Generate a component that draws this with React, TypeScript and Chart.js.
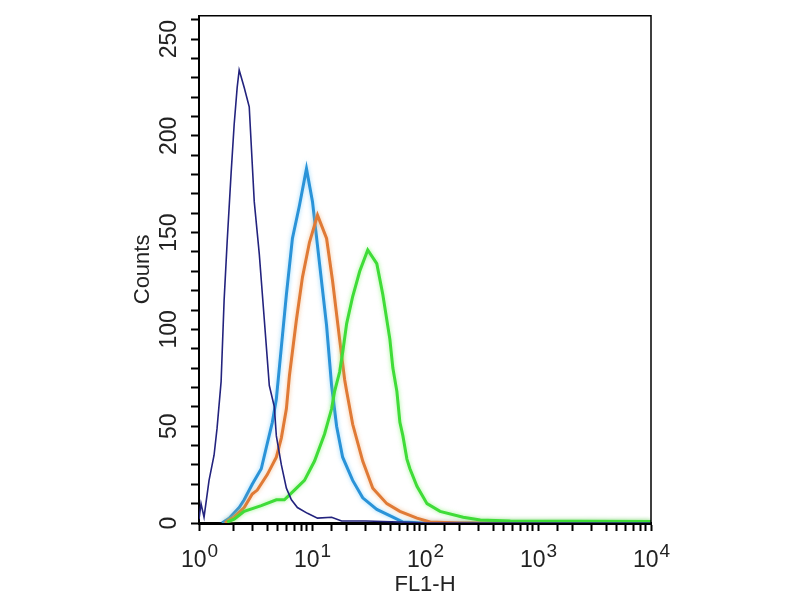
import React, { useEffect, useRef } from 'react';
import Chart from 'chart.js/auto';

// FL1-H intensity (x) and event counts (y)
const isotypeFl = [1.0, 1.042, 1.108, 1.227, 1.359, 1.445, 1.569, 1.668, 1.774, 1.925, 2.048, 2.177, 2.268, 2.512, 2.783, 3.083, 3.415, 3.784, 4.19, 4.642, 4.835, 5.357, 5.934, 6.574, 7.43, 9.12, 11.19, 14.91, 18.29, 30, 60, 100, 10000];
const isotypeCounts = [2, 10, 3, 22, 35, 49, 73, 115, 145, 181, 206, 225, 234, 225, 215, 166, 139, 105, 71, 60, 45, 30, 18, 12, 8, 5, 2.5, 3, 1, 1, 0.5, 0, 0];

const blueFl = [1.6, 1.85, 2.268, 2.512, 2.959, 3.557, 3.941, 4.456, 4.835, 5.357, 5.934, 6.71, 7.743, 8.935, 10.1, 11.66, 13.46, 14.91, 16.51, 18.67, 22.91, 28.11, 37.45, 51.95, 63.74, 100, 10000];
const blueCounts = [0, 2.5, 8, 12, 20, 28, 39, 52, 64, 91, 118, 147, 164, 183, 166, 134, 102, 71, 50, 34, 22, 13, 7, 3, 0.5, 0, 0];

const orangeFl = [1.7, 1.85, 2.048, 2.512, 2.959, 3.279, 4.022, 4.835, 5.357, 5.934, 6.31, 7.28, 8.235, 9.5, 11.19, 13.46, 15.21, 17.55, 19.45, 20.26, 22.91, 28.11, 34.5, 45.93, 59.95, 84.9, 110.8, 200, 10000];
const orangeCounts = [0, 1.5, 3, 8, 15, 17, 25, 34, 44, 59, 76, 105, 127, 145, 159, 147, 125, 95, 74, 68, 51, 32, 18, 10, 6, 2.5, 0.5, 0, 0];

const greenFl = [1.774, 2.048, 2.512, 3.557, 4.835, 5.696, 6.99, 8.577, 10.53, 12.92, 14.91, 15.85, 17.55, 18.67, 20.26, 22.91, 26.44, 31.14, 37.45, 42.33, 48.86, 51.95, 56.38, 59.95, 63.74, 69.18, 73.56, 84.9, 104.2, 135.9, 217.7, 308.3, 569.6, 10000];
const greenCounts = [0.5, 2, 6, 9, 12, 12, 17, 22, 32, 46, 59, 68, 78, 88, 103, 117, 130, 141, 134, 118, 95, 80, 68, 52, 45, 33, 28, 19, 10, 6, 3, 1.5, 1, 0.8];

const decades = [0, 1, 2, 3, 4];
const yLabelStep = 50;

const FONT = '"Liberation Sans", Arial, sans-serif';
const TEXT = '#222';

const pts = (xs: number[], ys: number[]) => xs.map((x, i) => ({ x, y: ys[i] }));

// soft halo round the thick histogram lines
const glow = {
    id: 'glow',
    beforeDatasetDraw(chart: any, args: any) {
        const ds = chart.data.datasets[args.index];
        if (ds.borderWidth < 2) return;
        chart.ctx.save();
        chart.ctx.shadowColor = ds.glowColor;
        chart.ctx.shadowBlur = 4;
    },
    afterDatasetDraw(chart: any, args: any) {
        const ds = chart.data.datasets[args.index];
        if (ds.borderWidth < 2) return;
        chart.ctx.restore();
    },
};

// box lines on top and right + "10^n" labels under the log axis
const frameAndPowers = {
    id: 'frameAndPowers',
    afterDraw(chart: any) {
        const { ctx, chartArea, scales } = chart;
        ctx.save();
        ctx.strokeStyle = '#000';
        ctx.lineWidth = 1.5;
        ctx.beginPath();
        ctx.moveTo(chartArea.left, chartArea.top);
        ctx.lineTo(chartArea.right, chartArea.top);
        ctx.lineTo(chartArea.right, chartArea.bottom);
        ctx.stroke();

        ctx.fillStyle = TEXT;
        ctx.textBaseline = 'alphabetic';
        ctx.textAlign = 'left';
        decades.forEach((n) => {
            const x = scales.x.getPixelForValue(Math.pow(10, n));
            ctx.font = `23px ${FONT}`;
            const baseW = ctx.measureText('10').width;
            ctx.font = `19px ${FONT}`;
            const expW = ctx.measureText(String(n)).width;
            const start = x - (baseW + expW) / 2;
            ctx.font = `23px ${FONT}`;
            ctx.fillText('10', start, 567);
            ctx.font = `19px ${FONT}`;
            ctx.fillText(String(n), start + baseW + 1, 557);
        });
        ctx.restore();
    },
};

const App: React.FC = () => {
    const canvasRef = useRef<HTMLCanvasElement>(null);

    useEffect(() => {
        if (!canvasRef.current) return;

        const line = (data: any, color: string, width: number, glowColor: string) => ({
            data,
            borderColor: color,
            borderWidth: width,
            glowColor,
            pointRadius: 0,
            fill: false,
            tension: 0,
        });

        const chart = new Chart(canvasRef.current, {
            type: 'line',
            data: {
                datasets: [
                    line(pts(isotypeFl, isotypeCounts), '#23237e', 1.6, 'rgba(0,0,0,0)'),
                    line(pts(greenFl, greenCounts), '#3fdc38', 3, 'rgba(120,240,100,0.7)'),
                    line(pts(orangeFl, orangeCounts), '#e07a36', 3, 'rgba(240,170,110,0.7)'),
                    line(pts(blueFl, blueCounts), '#2a93d8', 3, 'rgba(110,200,250,0.7)'),
                ] as any,
            },
            options: {
                responsive: false,
                animation: false,
                layout: { padding: { top: 8, right: 149, left: 0, bottom: 0 } },
                plugins: {
                    legend: { display: false },
                    tooltip: { enabled: false },
                },
                scales: {
                    x: {
                        type: 'logarithmic',
                        min: 1,
                        max: 10000,
                        afterFit: (s: any) => { s.height = 77; },
                        grid: { drawOnChartArea: false, drawTicks: true, tickLength: 8, tickColor: '#000', tickWidth: 2 },
                        border: { display: true, color: '#000', width: 3 },
                        ticks: { autoSkip: false, callback: () => '', font: { family: FONT, size: 23 } },
                        title: {
                            display: true,
                            text: 'FL1-H',
                            color: TEXT,
                            font: { family: FONT, size: 22 },
                            padding: { top: 0, bottom: 2 },
                        },
                    },
                    y: {
                        type: 'linear',
                        min: 0,
                        max: 262,
                        afterFit: (s: any) => { s.width = 199; },
                        grid: { drawOnChartArea: false, drawTicks: true, tickLength: 8, tickColor: '#000', tickWidth: 2 },
                        border: { display: true, color: '#000', width: 2 },
                        ticks: {
                            stepSize: 10,
                            includeBounds: false,
                            autoSkip: false,
                            minRotation: 90,
                            maxRotation: 90,
                            crossAlign: 'center',
                            padding: 2,
                            color: TEXT,
                            font: { family: FONT, size: 23 },
                            callback: (v: any) => (Number(v) % yLabelStep === 0 ? String(v) : ''),
                        },
                        title: {
                            display: true,
                            text: 'Counts',
                            color: TEXT,
                            font: { family: FONT, size: 22 },
                            padding: { top: 130, bottom: 0 },
                        },
                    },
                },
            },
            plugins: [glow, frameAndPowers],
        });

        return () => chart.destroy();
    }, []);

    return (
        <div style={{ position: 'fixed', left: 0, top: 0, width: 800, height: 600, background: '#fff' }}>
            <canvas ref={canvasRef} width={800} height={600}></canvas>
        </div>
    );
};

export default App;
